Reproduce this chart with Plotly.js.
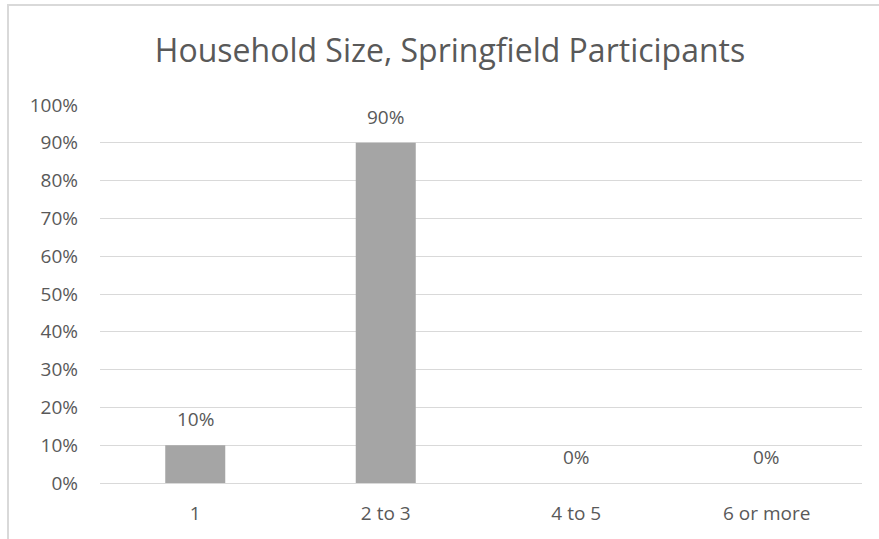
<!DOCTYPE html>
<html>
<head>
<meta charset="utf-8">
<script src="https://cdn.plot.ly/plotly-3.0.1.min.js"></script>
<style>
  html, body { margin: 0; padding: 0; background: #fff; }
  #wrap { position: relative; width: 879px; height: 539px; overflow: hidden; }
  #chart { position: absolute; left: 0; top: 0; width: 879px; height: 539px; }
  #frame { position: absolute; left: 7px; top: 4px; width: 880px; height: 540px;
           border-left: 2px solid #d9d9d9; border-top: 2px solid #d9d9d9; pointer-events: none; }
</style>
</head>
<body>
<div id="wrap">
  <div id="chart"></div>
  <div id="frame"></div>
</div>
<script>
// Household size categories and the share of participants in each
const categories = ['1', '2 to 3', '4 to 5', '6 or more'];
const shares = [0.10, 0.90, 0.00, 0.00];
const yTicks = [0, 0.1, 0.2, 0.3, 0.4, 0.5, 0.6, 0.7, 0.8, 0.9, 1.0];

const fontFam = '"Open Sans", Lato, "Liberation Sans", sans-serif';
const textGrey = '#595959';

const trace = {
  type: 'bar',
  x: categories,
  y: shares,
  marker: { color: '#a5a5a5' },
  hoverinfo: 'skip'
};

// value labels sit a little above each bar (x given as the category index)
const valueLabels = categories.map((c, i) => ({
  x: i,
  y: shares[i],
  xref: 'x',
  yref: 'y',
  text: Math.round(shares[i] * 100) + '%',
  showarrow: false,
  yanchor: 'bottom',
  yshift: 11,
  font: { family: fontFam, size: 19, color: textGrey }
}));

const layout = {
  width: 879,
  height: 539,
  margin: { l: 100, r: 17, t: 105, b: 56 },
  paper_bgcolor: '#ffffff',
  plot_bgcolor: '#ffffff',
  bargap: 0.685,
  showlegend: false,
  title: {
    text: 'Household Size, Springfield Participants',
    font: { family: fontFam, size: 32, color: textGrey },
    x: 0.512,
    xanchor: 'center',
    y: 0.905,
    yanchor: 'middle'
  },
  annotations: valueLabels,
  xaxis: {
    type: 'category',
    showgrid: false,
    showline: false,
    ticks: '',
    tickfont: { family: fontFam, size: 19, color: textGrey },
    ticklabelstandoff: 17
  },
  yaxis: {
    range: [0, 1],
    tickvals: yTicks,
    tickformat: '.0%',
    showgrid: true,
    gridcolor: '#d9d9d9',
    gridwidth: 1,
    zeroline: true,
    zerolinecolor: '#d9d9d9',
    zerolinewidth: 1,
    showline: false,
    ticks: '',
    tickfont: { family: fontFam, size: 19, color: textGrey },
    ticklabelstandoff: 21
  }
};

Plotly.newPlot('chart', [trace], layout, { displayModeBar: false, staticPlot: true });
</script>
</body>
</html>
